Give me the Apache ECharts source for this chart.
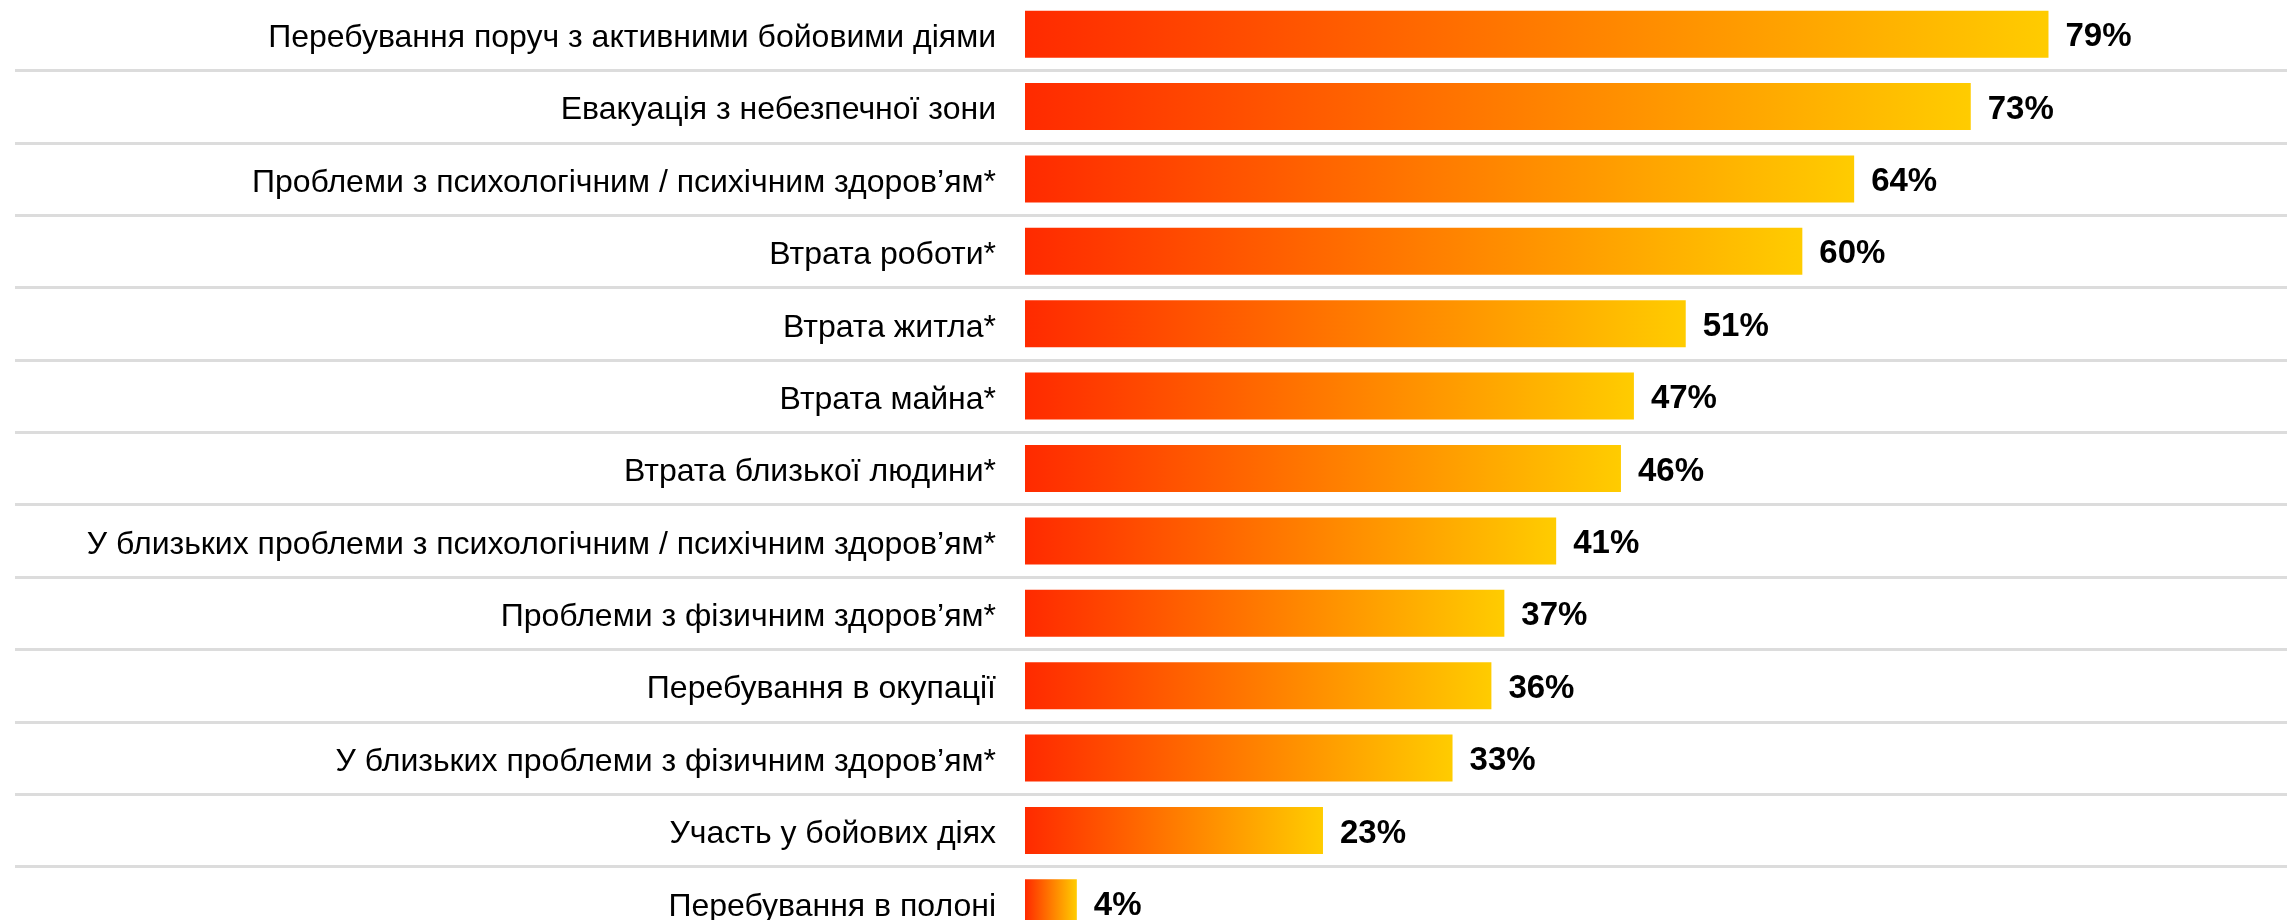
<!DOCTYPE html>
<html><head><meta charset="utf-8">
<script src="https://cdn.jsdelivr.net/npm/echarts@6/dist/echarts.min.js"></script>
<style>html,body{margin:0;padding:0;background:#fff}#c{width:2287px;height:920px}</style>
</head><body><div id="c"></div>
<script>
const categories = [
  "Перебування поруч з активними бойовими діями",
  "Евакуація з небезпечної зони",
  "Проблеми з психологічним / психічним здоров’ям*",
  "Втрата роботи*",
  "Втрата житла*",
  "Втрата майна*",
  "Втрата близької людини*",
  "У близьких проблеми з психологічним / психічним здоров’ям*",
  "Проблеми з фізичним здоров’ям*",
  "Перебування в окупації",
  "У близьких проблеми з фізичним здоров’ям*",
  "Участь у бойових діях",
  "Перебування в полоні"
];
const values = [79, 73, 64, 60, 51, 47, 46, 41, 37, 36, 33, 23, 4];

const chart = echarts.init(document.getElementById('c'));
const font = '"Liberation Sans", Arial, sans-serif';
const grad = new echarts.graphic.LinearGradient(0, 0, 1, 0, [
  {offset: 0, color: '#ff2a00'},
  {offset: 1, color: '#ffcc00'}
]);
chart.setOption({
  animation: false,
  grid: [
    {left: 1025, width: 1166, top: -2, height: 941, containLabel: false, outerBoundsMode: 'none'},
    {left: 15, width: 2272, top: -2, height: 941, containLabel: false, outerBoundsMode: 'none'}
  ],
  xAxis: [
    {gridIndex: 0, type: 'value', min: 0, max: 90, show: false},
    {gridIndex: 1, type: 'value', min: 0, max: 100, show: false}
  ],
  yAxis: [
    {gridIndex: 0, type: 'category', data: categories, inverse: true,
     axisLine: {show: false}, axisTick: {show: false}, splitLine: {show: false},
     axisLabel: {color: '#000', fontSize: 32, fontFamily: font, margin: 29,
                 formatter: v => '{t|' + v + '}',
                 rich: {t: {color: '#000', fontSize: 32, fontFamily: font, padding: [8, 0, 0, 0]}}}},
    {gridIndex: 1, type: 'category', data: categories, inverse: true,
     axisLine: {show: false}, axisTick: {show: false}, axisLabel: {show: false},
     splitLine: {show: true, lineStyle: {color: '#dcdcdc', width: 3}}, z: 0}
  ],
  series: [
    {type: 'bar', xAxisIndex: 0, yAxisIndex: 0, data: values, barWidth: 47,
     itemStyle: {color: grad}, z: 3,
     label: {show: true, position: 'right', distance: 17, formatter: '{c}%', offset: [0, 3],
             color: '#000', fontSize: 33, fontWeight: 'bold', fontFamily: font}},
    {type: 'bar', xAxisIndex: 1, yAxisIndex: 1, data: [], silent: true}
  ]
});
</script></body></html>
